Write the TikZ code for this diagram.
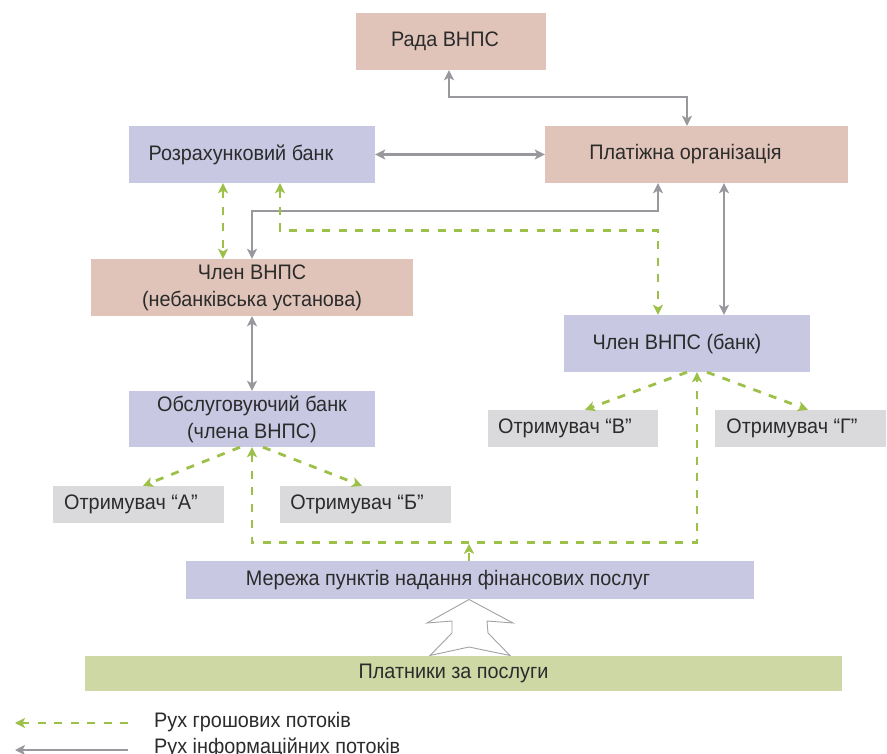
\documentclass[tikz,border=0pt]{standalone}
\usepackage{fontspec}
\setmainfont{Liberation Sans}[FakeStretch=0.944]
\usetikzlibrary{arrows.meta}
\definecolor{pinkbox}{HTML}{E0C4BA}
\definecolor{lavbox}{HTML}{C8C8E3}
\definecolor{greybox}{HTML}{DADADC}
\definecolor{greenbox}{HTML}{CDD8A5}
\definecolor{moneyc}{HTML}{9DC049}
\definecolor{infoc}{HTML}{98989D}
\definecolor{txt}{HTML}{2B2B2B}
\newcommand{\lsh}[2]{\hspace*{-#1pt}#2}
\begin{document}
\begin{tikzpicture}[x=1pt,y=-1pt,
  box/.style={inner sep=0pt, align=center, text=txt, font=\fontsize{21}{27}\selectfont},
  pinkb/.style={box, fill=pinkbox},
  lavb/.style={box, fill=lavbox},
  greyb/.style={box, fill=greybox, minimum height=37pt},
  greenb/.style={box, fill=greenbox},
  tipg/.tip={Stealth[length=10pt,width=10pt,inset=2.5pt]},
  infobase/.style={draw=infoc, line width=2.5pt},
  info/.style={infobase, tipg-tipg},
  info1/.style={infobase, -tipg},
  moneybase/.style={draw=moneyc, line width=2.8pt, dash pattern=on 8pt off 8.5pt},
  money1/.style={moneybase, -tipg},
  money2/.style={moneybase, tipg-tipg},
  legtext/.style={inner sep=0pt, text=txt, font=\fontsize{21}{27}\selectfont}
]
\fill[white] (0,0) rectangle (887,754);
\useasboundingbox (0,0) rectangle (887,754);

% boxes
\node[pinkb, minimum width=190pt, minimum height=57pt] (rada) at (451,41.5) {\lsh{12}{Рада ВНПС}};
\node[lavb, minimum width=246pt, minimum height=57pt] (rozr) at (252,154.5) {\lsh{22}{Розрахунковий банк}};
\node[pinkb, minimum width=303pt, minimum height=57pt] (plat) at (696.5,154.5) {\lsh{22}{Платіжна організація}};
\node[pinkb, minimum width=322pt, minimum height=57pt] (chlenN) at (252,287.5) {Член ВНПС\\(небанківська установа)};
\node[lavb, minimum width=246pt, minimum height=57pt] (chlenB) at (687,343.5) {\lsh{20}{Член ВНПС (банк)}};
\node[lavb, minimum width=246pt, minimum height=56pt] (obsl) at (252,419) {Обслуговуючий банк\\(члена ВНПС)};
\node[greyb, minimum width=171pt] (otrA) at (138.5,504.5) {\lsh{15}{Отримувач “А”}};
\node[greyb, minimum width=171pt] (otrB) at (365.5,504.5) {\lsh{17}{Отримувач “Б”}};
\node[greyb, minimum width=170pt] (otrV) at (573,428.5) {\lsh{16}{Отримувач “В”}};
\node[greyb, minimum width=171pt] (otrG) at (800.5,428.5) {\lsh{17}{Отримувач “Г”}};
\node[lavb, minimum width=568pt, minimum height=38pt] (merezha) at (470,580) {\lsh{44}{Мережа пунктів надання фінансових послуг}};
\node[greenb, minimum width=757pt, minimum height=35pt] (platn) at (463.5,673.5) {\lsh{20}{Платники за послуги}};

% information flows
\draw[info] ([xshift=-2pt]rada.south) -- ++(0,27) -| ([xshift=-9.5pt]plat.north);
\draw[info] (rozr.east) -- (plat.west);
\draw[info] (chlenN.north) -- ++(0,-48) -| ([xshift=-38.5pt]plat.south);
\draw[info] ([xshift=27.5pt]plat.south) -- ([xshift=37pt]chlenB.north);
\draw[info] (chlenN.south) -- (obsl.north);

% money flows
\draw[money2] ([xshift=-29pt]rozr.south) -- ([xshift=-29pt]chlenN.north);
\draw[money2] ([xshift=28pt]rozr.south) -- ++(0,47) -| ([xshift=-29pt]chlenB.north);
\draw[money1] ([xshift=-12pt]obsl.south) -- ([xshift=4.5pt]otrA.north);
\draw[money1] ([xshift=11pt]obsl.south) -- ([xshift=-3.5pt]otrB.north);
\draw[money1] (chlenB.south) -- ([xshift=12pt]otrV.north);
\draw[money1] ([xshift=20pt]chlenB.south) -- ([xshift=7.5pt]otrG.north);
\draw[money2] (obsl.south) -- ++(0,95) -| ([xshift=10pt]chlenB.south);
\draw[money1] ([xshift=-1pt]merezha.north) -- ++(0,-17);

% hollow arrow
\draw[draw=infoc!90, line width=0.9pt, fill=white, line join=miter]
  (469,599.5) -- (513,623) -- (487,621) -- (488,633) -- (510,655.5) -- (469,647)
  -- (430,655.5) -- (452,633) -- (452,621) -- (427,623) -- cycle;

% legend
\coordinate (l1s) at (128,723);
\coordinate (l1e) at (15,723);
\coordinate (l2s) at (128,750);
\coordinate (l2e) at (15,750);
\draw[money1] (l1s) -- (l1e);
\draw[info1] (l2s) -- (l2e);
\node[legtext, anchor=base west] (lt1) at (154,727) {Рух грошових потоків};
\node[legtext, anchor=base west] (lt2) at (154,753) {Рух інформаційних потоків};
\end{tikzpicture}
\end{document}
